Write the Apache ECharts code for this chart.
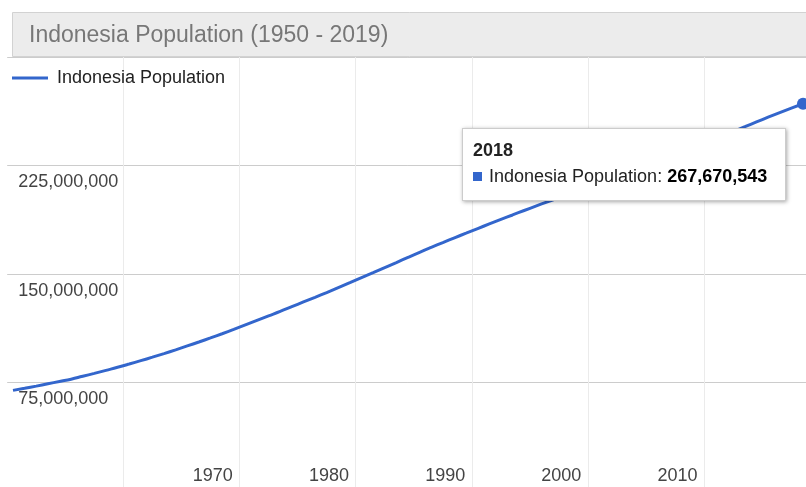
<!DOCTYPE html>
<html>
<head>
<meta charset="utf-8">
<title>Indonesia Population</title>
<script src="https://cdn.jsdelivr.net/npm/echarts@6/dist/echarts.min.js"></script>
<style>
    html, body { margin: 0; padding: 0; background: #fff; }
    #chart { width: 806px; height: 487px; }
</style>
</head>
<body>
<div id="chart"></div>
<script>
// data (yearly, 1950 - 2018)
var years = [
    '1950', '1951', '1952', '1953', '1954', '1955', '1956', '1957', '1958', '1959',
    '1960', '1961', '1962', '1963', '1964', '1965', '1966', '1967', '1968', '1969',
    '1970', '1971', '1972', '1973', '1974', '1975', '1976', '1977', '1978', '1979',
    '1980', '1981', '1982', '1983', '1984', '1985', '1986', '1987', '1988', '1989',
    '1990', '1991', '1992', '1993', '1994', '1995', '1996', '1997', '1998', '1999',
    '2000', '2001', '2002', '2003', '2004', '2005', '2006', '2007', '2008', '2009',
    '2010', '2011', '2012', '2013', '2014', '2015', '2016', '2017', '2018'
]
var population = [
    69543000, 71000000, 72500000, 74100000, 75700000, 77270000, 79300000, 81300000, 83400000, 85500000,
    87750000, 90100000, 92500000, 95000000, 97600000, 100270000, 103000000, 105800000, 108700000, 111700000,
    114790000, 117900000, 121000000, 124100000, 127400000, 130680000, 133900000, 137200000, 140600000, 144000000,
    147450000, 150900000, 154400000, 157900000, 161500000, 165010000, 168400000, 171700000, 175000000, 178200000,
    181410000, 184600000, 187700000, 190800000, 193900000, 196930000, 199900000, 202800000, 205800000, 208700000,
    211510000, 214400000, 217400000, 220300000, 223300000, 226290000, 229300000, 232400000, 235500000, 238600000,
    241830000, 245100000, 248500000, 251800000, 255100000, 258380000, 261560000, 264650000, 267670543
]
var xLabels = ['1970', '1980', '1990', '2000', '2010']
var gridYears = ['1960', '1970', '1980', '1990', '2000', '2010']
var yTicks = [0, 75000000, 150000000, 225000000, 300000000]
var seriesName = 'Indonesia Population'
var hoverYear = '2018'

var blue = '#3366cc'
var font = '"Liberation Sans", Arial, sans-serif'

var chart = echarts.init(document.getElementById('chart'))

var hoverIndex = years.indexOf(hoverYear)

chart.setOption({
    animation: false,
    textStyle: { fontFamily: font },
    title: {
        text: 'Indonesia Population (1950 - 2019)',
        left: 29,
        top: 24,
        padding: 0,
        textStyle: { fontSize: 23, fontWeight: 'normal', color: '#777', fontFamily: font }
    },
    graphic: [{
        type: 'rect',
        left: 12,
        top: 12,
        z: -1,
        shape: { width: 810, height: 44 },
        style: { fill: '#ececec', stroke: '#d2d2d2', lineWidth: 1 }
    }],
    legend: {
        data: [seriesName],
        left: 12,
        top: 69,
        padding: 0,
        icon: 'rect',
        itemWidth: 36,
        itemHeight: 3,
        textStyle: { fontSize: 18, color: '#222', padding: [0, 0, 0, 4] }
    },
    tooltip: {
        trigger: 'item',
        triggerOn: 'none',
        alwaysShowContent: true,
        transitionDuration: 0,
        position: [462, 128],
        backgroundColor: '#fff',
        borderColor: '#cccccc',
        borderWidth: 1,
        padding: [8, 18, 11, 10],
        extraCssText: 'border-radius:0;box-shadow:1px 1px 4px rgba(0,0,0,0.35);',
        formatter: function(p) {
            var v = p.value[1]
            return '<div style="font-family:' + font.replace(/"/g, "'") + ';font-size:18px;color:#000;line-height:26px">' +
                '<div style="font-weight:bold;color:#222">' + p.value[0] + '</div>' +
                '<div><span style="display:inline-block;width:9px;height:9px;background:' + blue + ';margin-right:7px;vertical-align:1px"></span>' +
                '<span style="color:#222">' + seriesName + ': </span><b>' + v.toLocaleString('en-US') + '</b></div></div>'
        }
    },
    grid: {
        left: 7.2,
        width: 801.6,
        top: 57,
        height: 434,
        outerBoundsMode: 'none'
    },
    xAxis: {
        type: 'category',
        data: years,
        boundaryGap: true,
        axisLine: { show: false },
        axisTick: { show: false },
        splitLine: {
            show: true,
            interval: function(index, value) {
                return gridYears.indexOf(value) > -1
            },
            lineStyle: { color: '#ebebeb', width: 1 }
        },
        axisLabel: {
            inside: true,
            margin: 6,
            interval: function(index, value) {
                return xLabels.indexOf(value) > -1
            },
            align: 'right',
            padding: [0, 12.5, 0, 0],
            fontSize: 18,
            color: '#444'
        }
    },
    yAxis: {
        type: 'value',
        min: yTicks[0],
        max: yTicks[yTicks.length - 1],
        interval: yTicks[1] - yTicks[0],
        axisLine: { show: false },
        axisTick: { show: false },
        splitLine: { lineStyle: { color: '#cccccc', width: 1 } },
        axisLabel: {
            inside: true,
            margin: 11,
            verticalAlign: 'top',
            padding: [8, 0, 0, 0],
            fontSize: 18,
            color: '#444',
            formatter: function(v) {
                if (v === yTicks[0] || v === yTicks[yTicks.length - 1]) {
                    return ''
                }
                return v.toLocaleString('en-US')
            }
        }
    },
    series: [{
        name: seriesName,
        type: 'line',
        data: population,
        showSymbol: false,
        smooth: true,
        lineStyle: { color: blue, width: 3 },
        itemStyle: { color: blue }
    }, {
        name: 'hover',
        type: 'scatter',
        data: [[years[hoverIndex], population[hoverIndex]]],
        symbolSize: 12,
        itemStyle: { color: blue, opacity: 1 }
    }]
})

chart.dispatchAction({ type: 'showTip', seriesIndex: 1, dataIndex: 0 })
</script>
</body>
</html>
